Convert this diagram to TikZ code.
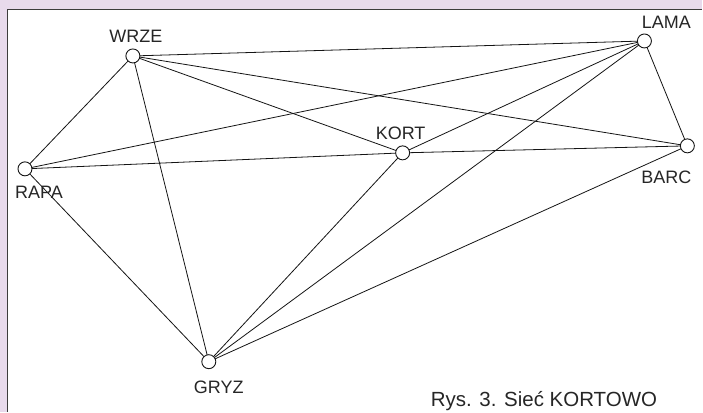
\documentclass[tikz,border=0pt]{standalone}
\usepackage{fontspec}
\setmainfont{Liberation Sans}
\definecolor{lav}{RGB}{232,218,236}
\definecolor{frame}{RGB}{60,60,60}
\definecolor{edgec}{RGB}{20,20,20}
\begin{document}
\begin{tikzpicture}[x=1pt,y=-1pt,
  vtx/.style={circle,draw=edgec,fill=white,line width=0.9pt,minimum size=14pt,inner sep=0pt},
  lbl/.style={font=\fontsize{18}{21}\selectfont,text=black!85,inner sep=0pt},
  capt/.style={font=\fontsize{20.5}{24}\selectfont,text=black!85,inner sep=0pt},
  link/.style={draw=edgec,line width=0.8pt}]
\fill[lav] (0,0) rectangle (703,412);
\fill[white] (8,10) rectangle (703,412);
\draw[frame,line width=1.3pt] (7.6,412) -- (7.6,9.6) -- (703,9.6);
\useasboundingbox (0,0) rectangle (703,412);

\coordinate (pW) at (133,56);
\coordinate (pL) at (645,41);
\coordinate (pB) at (688,146);
\coordinate (pR) at (25,169);
\coordinate (pK) at (403,153);
\coordinate (pG) at (209,362);

\draw[link] (pW) -- (pL);
\draw[link] (pW) -- (pK);
\draw[link] (pW) -- (pB);
\draw[link] (pW) -- (pR);
\draw[link] (pW) -- (pG);
\draw[link] (pR) -- (pL);
\draw[link] (pR) -- (pK);
\draw[link] (pR) -- (pG);
\draw[link] (pK) -- (pL);
\draw[link] (pK) -- (pB);
\draw[link] (pK) -- (pG);
\draw[link] (pG) -- (pL);
\draw[link] (pG) -- (pB);
\draw[link] (pL) -- (pB);

\node[vtx] (WRZE) at (pW) {};
\node[vtx] (LAMA) at (pL) {};
\node[vtx] (BARC) at (pB) {};
\node[vtx] (RAPA) at (pR) {};
\node[vtx] (KORT) at (pK) {};
\node[vtx] (GRYZ) at (pG) {};

\node[lbl] (tW) at (136,36.3) {WRZE};
\node[lbl] (tL) at (667,22.5) {LAMA};
\node[lbl] (tK) at (401,133) {KORT};
\node[lbl] (tR) at (39,192) {RAPA};
\node[lbl] (tB) at (667,177) {BARC};
\node[lbl] (tG) at (219,388) {GRYZ};
\node[capt,anchor=base] (cap) at (544.5,407) {Rys. 3. Sieć KORTOWO};
\end{tikzpicture}
\end{document}
